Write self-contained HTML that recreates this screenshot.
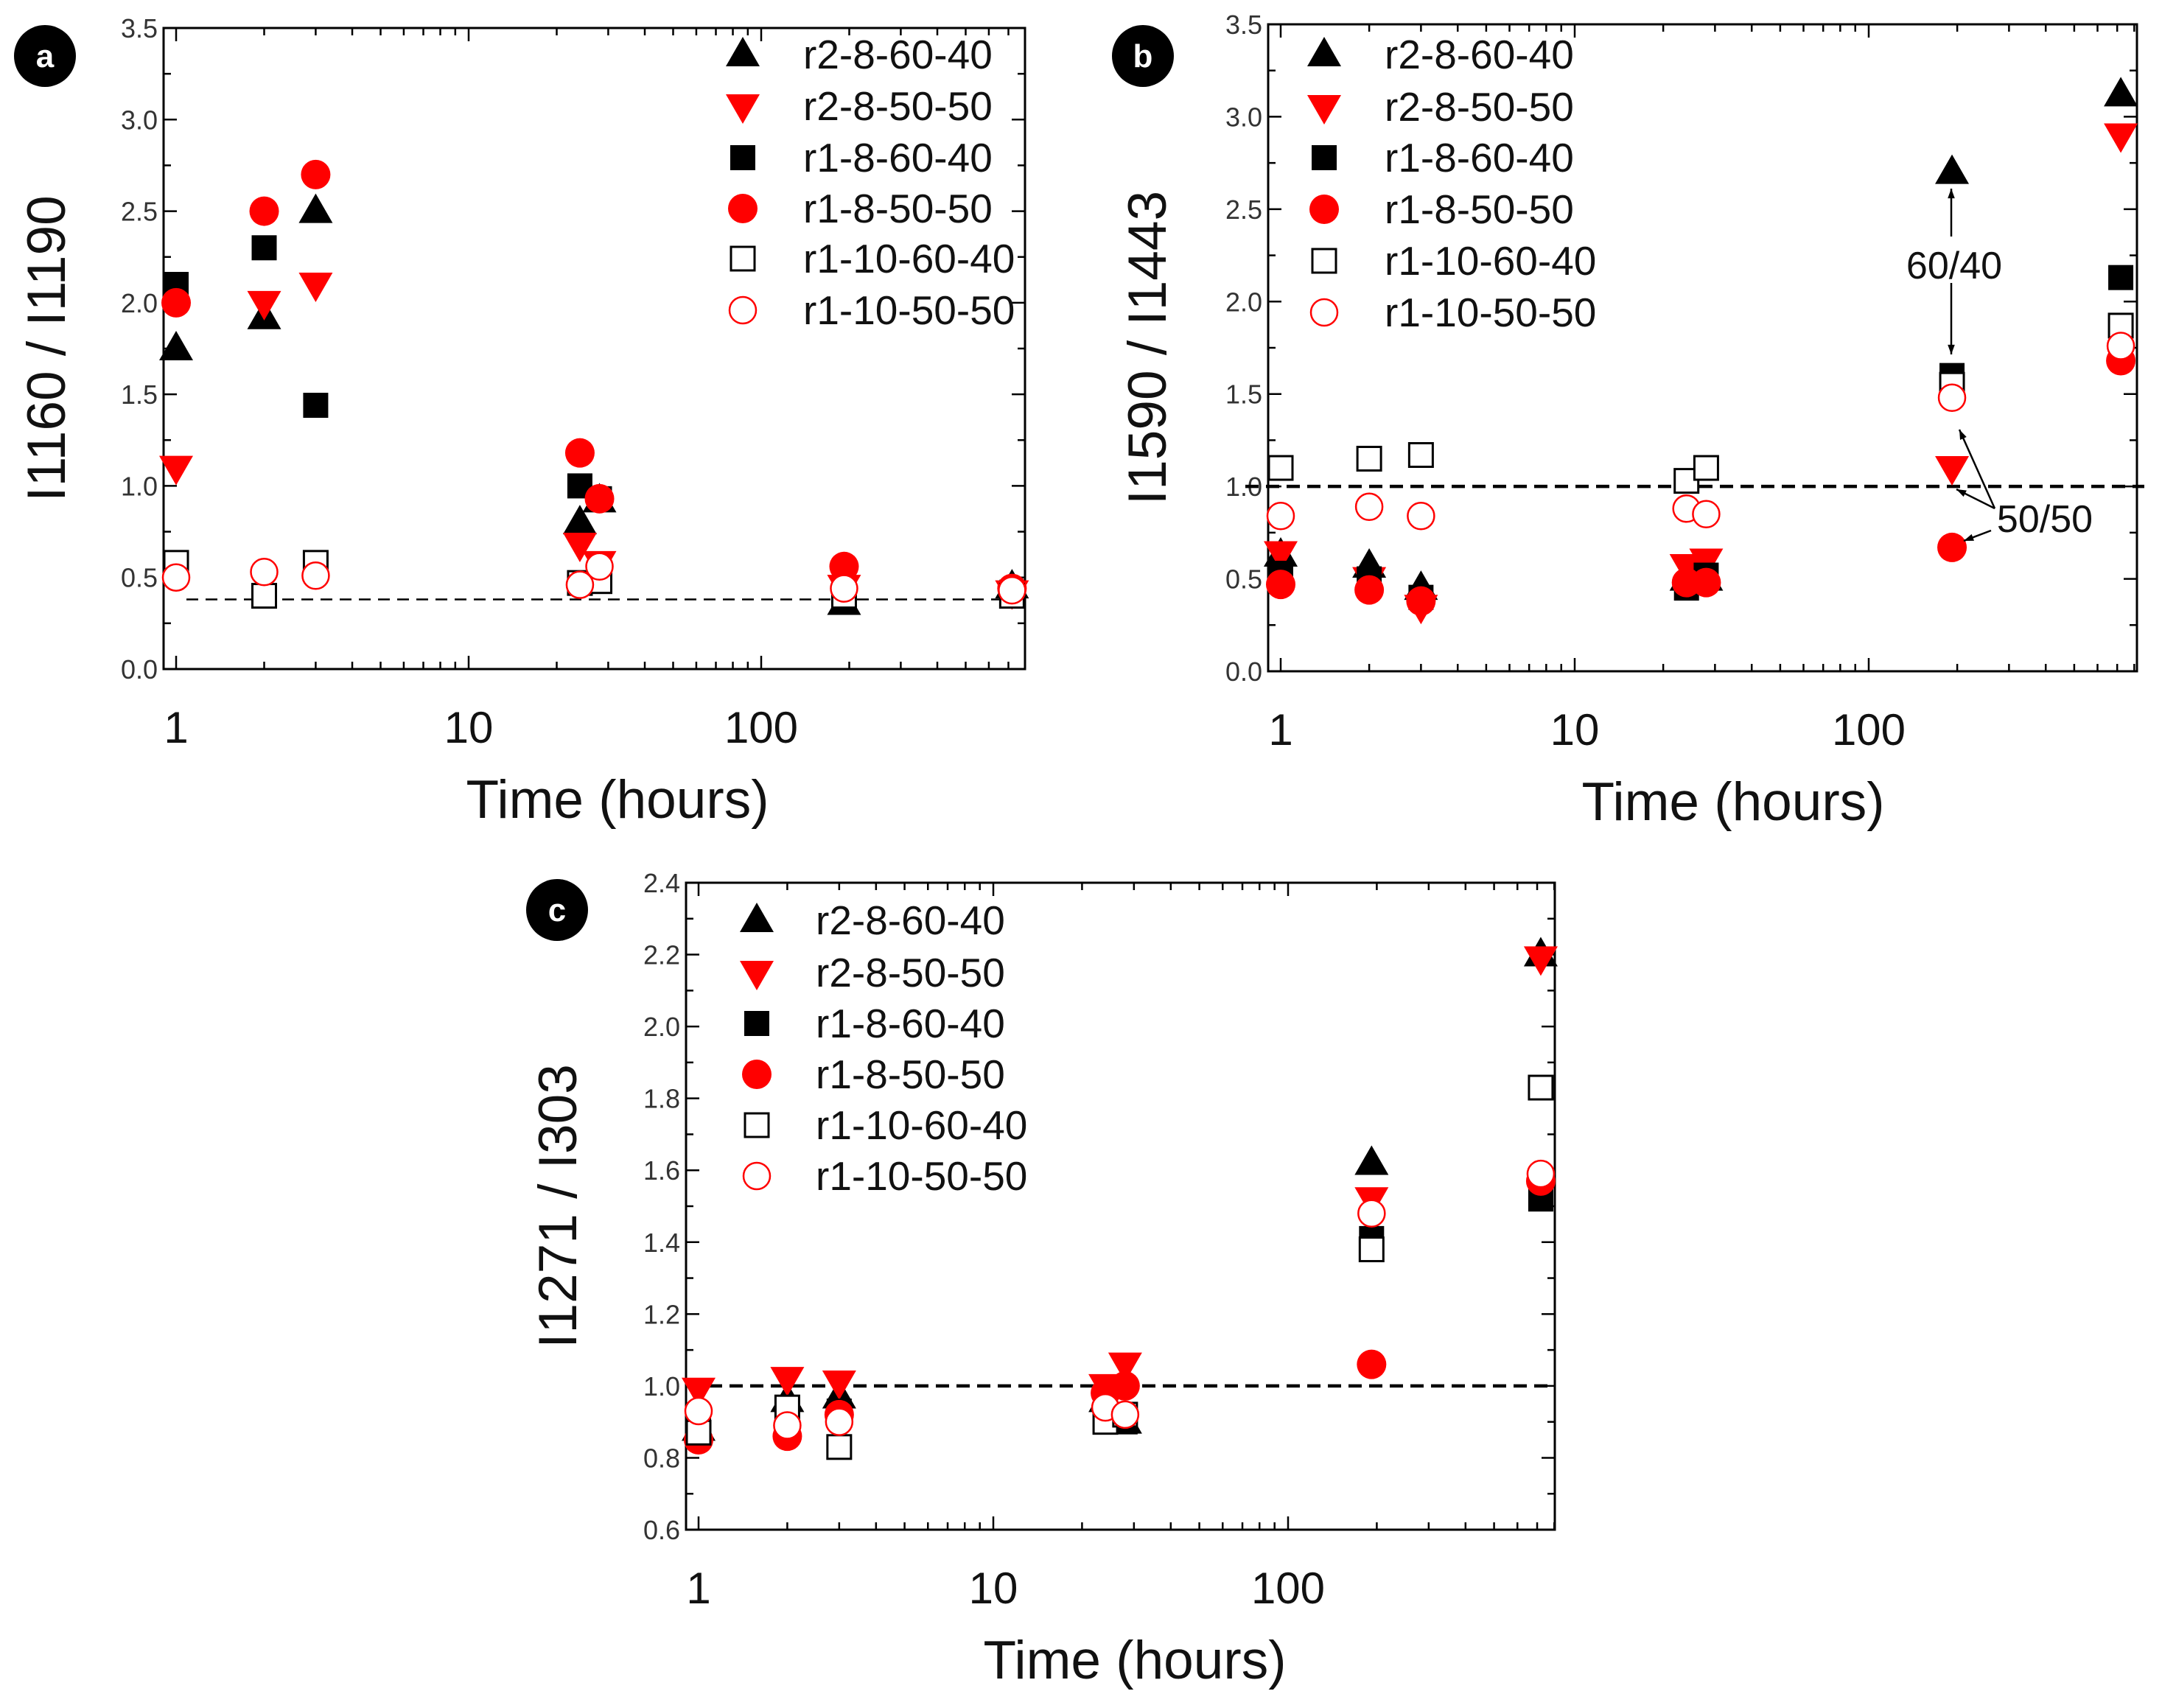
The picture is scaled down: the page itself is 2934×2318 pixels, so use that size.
<!DOCTYPE html>
<html><head><meta charset="utf-8"><style>
html,body{margin:0;padding:0;background:#fff}
svg{display:block}
text{font-family:"Liberation Sans",Arial,sans-serif}
</style></head><body>
<svg id="fig" xmlns="http://www.w3.org/2000/svg" width="2934" height="2318" viewBox="0 0 2934 2318"></svg>
<script>
// ---- data ----
const times = [1, 2, 3, 24, 28, 192, 720];
const seriesNames = ["r2-8-60-40","r2-8-50-50","r1-8-60-40","r1-8-50-50","r1-10-60-40","r1-10-50-50"];
// Panel a: I1160/I1190
const aTri   = [1.75, 1.92, 2.5, 0.8, 0.92, 0.36, 0.45];
const aDown  = [1.1, 2.0, 2.1, 0.68, 0.58, 0.45, 0.42];
const aSq    = [2.1, 2.3, 1.44, 1.0, 0.93, 0.4, 0.42];
const aCirc  = [2.0, 2.5, 2.7, 1.18, 0.93, 0.56, 0.44];
const aOSq   = [0.58, 0.4, 0.58, 0.47, 0.48, 0.4, 0.4];
const aOCirc = [0.5, 0.53, 0.51, 0.46, 0.56, 0.44, 0.43];
const aYTicks = ["0.0","0.5","1.0","1.5","2.0","2.5","3.0","3.5"];
// Panel b: I1590/I1443
const bTri   = [0.63, 0.57, 0.45, 0.5, 0.5, 2.7, 3.12];
const bDown  = [0.64, 0.5, 0.35, 0.57, 0.6, 1.1, 2.9];
const bSq    = [0.53, 0.5, 0.4, 0.45, 0.52, 1.6, 2.13];
const bCirc  = [0.47, 0.44, 0.38, 0.48, 0.48, 0.67, 1.68];
const bOSq   = [1.1, 1.15, 1.17, 1.03, 1.1, 1.55, 1.87];
const bOCirc = [0.84, 0.89, 0.84, 0.88, 0.85, 1.48, 1.76];
const bYTicks = ["0.0","0.5","1.0","1.5","2.0","2.5","3.0","3.5"];
// Panel c: I1271/I303
const cTri   = [0.88, 0.96, 0.97, 0.96, 0.9, 1.62, 2.2];
const cDown  = [0.99, 1.02, 1.01, 1.0, 1.06, 1.52, 2.19];
const cSq    = [0.88, 0.93, 0.93, 0.94, 0.9, 1.41, 1.52];
const cCirc  = [0.85, 0.86, 0.92, 0.98, 1.0, 1.06, 1.57];
const cOSq   = [0.87, 0.94, 0.83, 0.9, 0.92, 1.38, 1.83];
const cOCirc = [0.93, 0.89, 0.9, 0.94, 0.92, 1.48, 1.59];
const cYTicks = ["0.6","0.8","1.0","1.2","1.4","1.6","1.8","2.0","2.2","2.4"];
const xTickLabels = ["1","10","100"];

const NS = "http://www.w3.org/2000/svg";
const svg = document.getElementById("fig");
function el(tag, attrs, parent, txt) {
  const e = document.createElementNS(NS, tag);
  for (const k in attrs) e.setAttribute(k, attrs[k]);
  if (txt !== undefined) e.textContent = txt;
  (parent || svg).appendChild(e);
  return e;
}
function marker(g, kind, cx, cy, name) {
  let m;
  if (kind === 0) m = el("polygon", {points:`${cx},${cy-24} ${cx-23},${cy+16} ${cx+23},${cy+16}`, fill:"#000"}, g);
  else if (kind === 1) m = el("polygon", {points:`${cx},${cy+24} ${cx-23},${cy-16} ${cx+23},${cy-16}`, fill:"#f00"}, g);
  else if (kind === 2) m = el("rect", {x:cx-17, y:cy-17, width:34, height:34, fill:"#000"}, g);
  else if (kind === 3) m = el("circle", {cx:cx, cy:cy, r:20, fill:"#f00"}, g);
  else if (kind === 4) m = el("rect", {x:cx-16, y:cy-16, width:32, height:32, fill:"#fff", stroke:"#000", "stroke-width":3}, g);
  else m = el("circle", {cx:cx, cy:cy, r:18, fill:"#fff", stroke:"#f00", "stroke-width":2.5}, g);
  
  
  return m;
}

function panel(cfg) {
  const g = el("g", {});
  
  
  const {L, R, T, B, x1, dec, ymin, ymax} = cfg;
  const X = t => x1 + Math.log10(t) * dec;
  const Y = v => B - (v - ymin) / (ymax - ymin) * (B - T);
  const tg = el("g", {stroke:"#000", "stroke-width":2.5}, g);
  
  
  for (let d = 0.1; d <= 1000; d *= 10) {
    for (let k = 1; k <= 9; k++) {
      const v = d * k; const x = X(v);
      if (x < L - 0.5 || x > R + 0.5) continue;
      const len = k === 1 ? 18 : 10;
      el("line", {x1:x, y1:B, x2:x, y2:B - len}, tg);
      el("line", {x1:x, y1:T, x2:x, y2:T + len}, tg);
    }
  }
  const n = cfg.yTicks.length;
  for (let i = 0; i < n; i++) {
    const v = parseFloat(cfg.yTicks[i]);
    const y = Y(v);
    el("line", {x1:L, y1:y, x2:L + 18, y2:y}, tg);
    el("line", {x1:R, y1:y, x2:R - 18, y2:y}, tg);
    const lab = el("text", {x:L - 8, y:y + 13, "text-anchor":"end", "font-size":36, fill:"#333"}, g, cfg.yTicks[i]);
    
    
    if (i < n - 1) {
      const ym = Y(v + (parseFloat(cfg.yTicks[1]) - parseFloat(cfg.yTicks[0])) / 2);
      el("line", {x1:L, y1:ym, x2:L + 10, y2:ym}, tg);
      el("line", {x1:R, y1:ym, x2:R - 10, y2:ym}, tg);
    }
  }
  for (let i = 0; i < xTickLabels.length; i++) {
    const v = parseFloat(xTickLabels[i]);
    const lab = el("text", {x:X(v), y:B + 100, "text-anchor":"middle", "font-size":60, fill:"#111"}, g, xTickLabels[i]);
    
    
  }
  const fr = el("rect", {x:L, y:T, width:R - L, height:B - T, fill:"none", stroke:"#000", "stroke-width":3}, g);
  
  
  const dl = el("line", {x1:cfg.dashX0, y1:Y(cfg.dashY), x2:cfg.dashX1, y2:Y(cfg.dashY), stroke:"#000", "stroke-width":cfg.dashW, "stroke-dasharray":cfg.dashPat}, g);
  
  
  for (let s = 0; s < cfg.series.length; s++) {
    const sg = el("g", {}, g);
    
    
    const vals = cfg.series[s];
    for (let i = 0; i < times.length; i++) marker(sg, s, X(times[i]), Y(vals[i]), 'point');
  }
  const lg = el("g", {}, g);
  
  
  for (let s = 0; s < seriesNames.length; s++) {
    const y = cfg.legY[s];
    marker(lg, s, cfg.legSymX, y, 'legend-symbol');
    const t = el("text", {x:cfg.legTxtX, y:y + 19, "font-size":55, fill:"#111"}, lg, seriesNames[s]);
    
    
  }
  const xt = el("text", {x:cfg.xTitleX, y:B + 202, "text-anchor":"middle", "font-size":73, fill:"#111"}, g, "Time (hours)");
  
  
  const yt = el("text", {x:0, y:0, "text-anchor":"middle", "font-size":73, fill:"#111", transform:`translate(${cfg.yTitleX},${(T + B) / 2}) rotate(-90)`}, g, cfg.yTitle);
  
  
  const bc = el("circle", {cx:cfg.badge[0], cy:cfg.badge[1], r:42, fill:"#000"}, g);
  
  
  const bt = el("text", {x:cfg.badge[0], y:cfg.badge[1] + 15, "text-anchor":"middle", "font-size":44, "font-weight":"bold", fill:"#fff"}, g, cfg.label);
  
  
  return {g, X, Y};
}

panel({name:"panel-a", label:"a", L:222, R:1391, T:38, B:908, x1:239, dec:397, ymin:0, ymax:3.5,
  yTicks:aYTicks, series:[aTri,aDown,aSq,aCirc,aOSq,aOCirc],
  dashY:0.38, dashX0:253, dashX1:1391, dashW:2.5, dashPat:"16,10",
  legSymX:1008, legTxtX:1090, legY:[74,144,214,283,351,421],
  xTitleX:838, yTitleX:88, yTitle:"I1160 / I1190", badge:[61,76]});

const pb = panel({name:"panel-b", label:"b", L:1721, R:2900, T:33, B:911, x1:1738, dec:399, ymin:0, ymax:3.5,
  yTicks:bYTicks, series:[bTri,bDown,bSq,bCirc,bOSq,bOCirc],
  dashY:1.0, dashX0:1690, dashX1:2910, dashW:4.5, dashPat:"18,10",
  legSymX:1797, legTxtX:1879, legY:[74,145,214,284,354,424],
  xTitleX:2352, yTitleX:1582, yTitle:"I1590 / I1443", badge:[1551,76]});

panel({name:"panel-c", label:"c", L:931, R:2110, T:1198, B:2076, x1:948, dec:400, ymin:0.6, ymax:2.4,
  yTicks:cYTicks, series:[cTri,cDown,cSq,cCirc,cOSq,cOCirc],
  dashY:1.0, dashX0:934, dashX1:2110, dashW:4.5, dashPat:"18,10",
  legSymX:1027, legTxtX:1107, legY:[1249,1320,1389,1458,1527,1596],
  xTitleX:1540, yTitleX:782, yTitle:"I1271 / I303", badge:[756,1235]});

const ann = el("g", {stroke:"#000", "stroke-width":2.5, fill:"none"}, pb.g);


function arrow(x1, y1, x2, y2) {
  const ln = el("line", {x1, y1, x2, y2}, ann);
  
  
  const a = Math.atan2(y2 - y1, x2 - x1), h = 14;
  el("polygon", {points:`${x2},${y2} ${x2 - h*Math.cos(a - 0.35)},${y2 - h*Math.sin(a - 0.35)} ${x2 - h*Math.cos(a + 0.35)},${y2 - h*Math.sin(a + 0.35)}`, fill:"#000", stroke:"none"}, ann);
}
arrow(2648, 321, 2648, 256);
arrow(2648, 384, 2648, 481);
arrow(2707, 690, 2659, 583);
arrow(2707, 690, 2655, 664);
arrow(2702, 720, 2665, 734);
const t1 = el("text", {x:2652, y:378, "text-anchor":"middle", "font-size":52, fill:"#111"}, pb.g, "60/40");


const t2 = el("text", {x:2775, y:722, "text-anchor":"middle", "font-size":52, fill:"#111"}, pb.g, "50/50");


</script>
</body></html>
